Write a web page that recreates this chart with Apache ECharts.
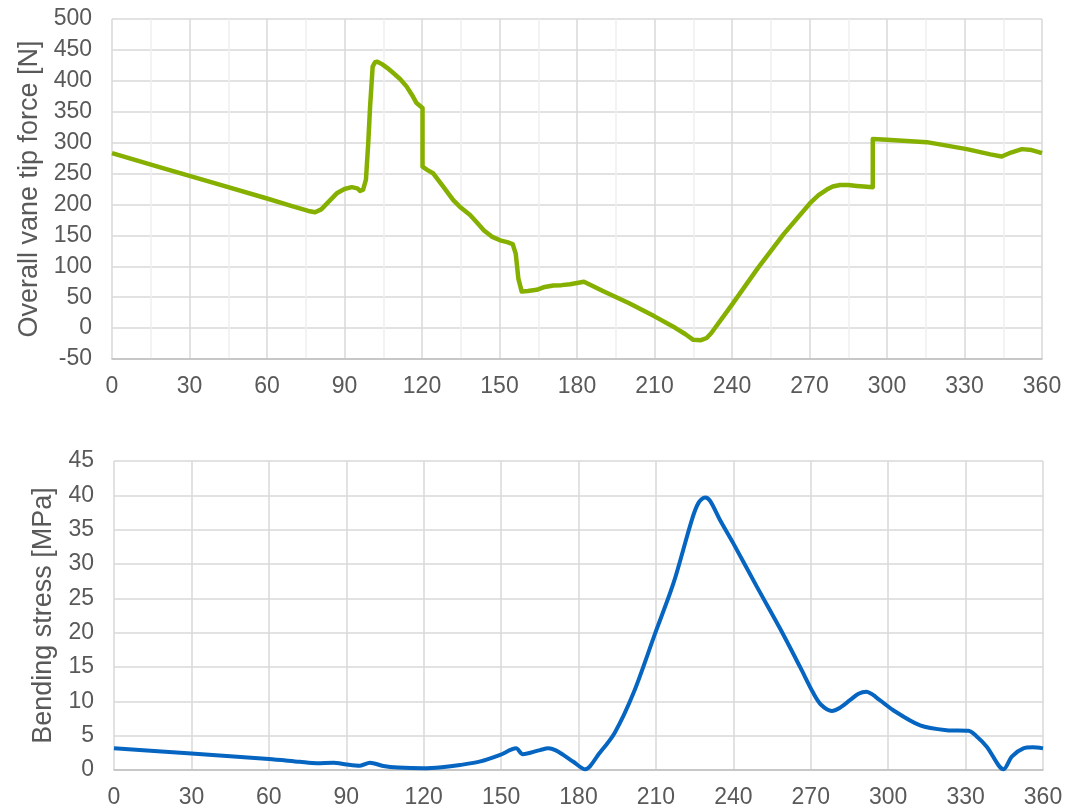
<!DOCTYPE html>
<html>
<head>
<meta charset="utf-8">
<script src="https://cdn.jsdelivr.net/npm/echarts@6/dist/echarts.min.js"></script>
<style>
html,body{margin:0;padding:0;background:#fff;}
#c{width:1068px;height:810px;}
</style>
</head>
<body>
<div id="c"></div>
<script>
// Top chart: overall vane tip force [N] vs angle [deg]
const forceAngle = [0, 20, 40, 60, 70, 76, 78.6, 81, 84, 87, 90, 92.8, 95, 96, 97.2, 98.3, 99.2, 99.9, 100.9, 101.8, 102.7, 104.5, 106.5, 108.9, 111.5, 114, 116, 117.9, 120.2, 120.2, 122, 124.4, 128, 132.1, 135, 138.6, 141, 144, 147, 150.2, 153, 155.1, 156.3, 157.3, 158.6, 161, 164.4, 167, 170.8, 174, 177.3, 180, 182.7, 190, 200, 210, 218, 222, 225, 228, 230.2, 232, 240, 250, 260, 270.2, 273.5, 276.7, 279, 281.8, 285, 288.3, 291, 294.5, 294.5, 299.9, 315.4, 330.9, 340, 344.4, 348, 352.2, 356, 360];
const forceValue = [283, 258.5, 234, 209.6, 197, 189.5, 187.5, 192, 205, 218, 225, 228, 226, 222, 224, 240, 300, 358, 423, 430, 431, 427, 421, 412.5, 403, 391, 378, 364, 356, 261, 256, 250, 230, 207, 195, 183, 172, 158, 148, 142, 139, 136, 120, 80, 59, 60, 62, 66, 69, 69.5, 71, 73, 75, 60, 40.5, 19, 0.5, -10, -19, -19.5, -16, -8, 38, 97, 152, 202, 215, 224, 229, 231.5, 231.5, 230, 229, 228, 305.7, 304.6, 300.8, 289.5, 281, 277.5, 284, 289.5, 288, 283];

// Bottom chart: bending stress [MPa] vs angle [deg]
const stressAngle = [0, 30, 60, 72, 78.6, 85, 90.2, 95.3, 99.2, 104.4, 110, 119.9, 127, 134.1, 142, 149.6, 155.8, 158.4, 165.1, 168.3, 171, 174.1, 178, 182.6, 188, 194, 201.3, 209.7, 216.8, 223.9, 226.5, 229.1, 231, 235, 240, 249.1, 258.1, 266, 271, 274, 278.2, 281, 285.3, 288.5, 291.5, 293.5, 295, 302, 312.4, 322.7, 331.1, 334, 338.2, 344.7, 348, 352.4, 356, 360];
const stressValue = [3.15, 2.4, 1.6, 1.2, 1.0, 1.07, 0.8, 0.63, 1.07, 0.58, 0.35, 0.24, 0.4, 0.73, 1.25, 2.2, 3.15, 2.3, 2.9, 3.15, 2.9, 2.2, 1.2, 0.1, 2.4, 5.4, 11.2, 19.9, 27.2, 36.4, 38.9, 39.7, 39.2, 36.3, 33, 26.7, 20.6, 14.9, 11.2, 9.5, 8.6, 9, 10.2, 11.1, 11.4, 11.1, 10.7, 8.7, 6.5, 5.8, 5.7, 5.0, 3.4, 0.1, 2.0, 3.15, 3.3, 3.15];

const xTicks = [0, 30, 60, 90, 120, 150, 180, 210, 240, 270, 300, 330, 360];
const forceName = 'Overall vane tip force [N]';
const stressName = 'Bending stress [MPa]';

const FONT = "'Liberation Sans', Arial, sans-serif";
const TXT = '#595959';
const GRID = '#d9d9d9';

function zip(a, b) { return a.map((v, i) => [v, b[i]]); }

function xAxisCfg(gridIndex, minor) {
  return {
    type: 'value', gridIndex: gridIndex, min: xTicks[0], max: xTicks[xTicks.length - 1], interval: 30,
    axisLine: { show: true, onZero: false, lineStyle: { color: '#bfbfbf', width: 1.5 } },
    axisTick: { show: false },
    axisLabel: { color: TXT, fontSize: 23, fontFamily: FONT, margin: 16 },
    splitLine: { show: true, lineStyle: { color: GRID, width: 1.5 } },
    minorTick: { show: false, splitNumber: 2 },
    minorSplitLine: { show: minor, lineStyle: { color: '#f0f0f0', width: 1.5 } }
  };
}

const chart = echarts.init(document.getElementById('c'), null, { renderer: 'canvas' });
chart.setOption({
  animation: false,
  backgroundColor: '#fff',
  grid: [
    { left: 112, top: 19, right: 26, height: 340 },
    { left: 114, top: 461, right: 25, height: 309 }
  ],
  xAxis: [xAxisCfg(0, true), xAxisCfg(1, false)],
  yAxis: [
    {
      type: 'value', gridIndex: 0, min: -50, max: 500, interval: 50,
      name: forceName, nameLocation: 'middle', nameGap: 64, nameRotate: 90,
      nameTextStyle: { color: TXT, fontSize: 27, fontFamily: FONT },
      axisLine: { show: false }, axisTick: { show: false },
      axisLabel: { color: TXT, fontSize: 23, fontFamily: FONT, margin: 20 },
      splitLine: { show: true, lineStyle: { color: GRID, width: 1.5 } }
    },
    {
      type: 'value', gridIndex: 1, min: 0, max: 45, interval: 5,
      name: stressName, nameLocation: 'middle', nameGap: 51, nameRotate: 90,
      nameTextStyle: { color: TXT, fontSize: 27, fontFamily: FONT },
      axisLine: { show: false }, axisTick: { show: false },
      axisLabel: { color: TXT, fontSize: 23, fontFamily: FONT, margin: 20 },
      splitLine: { show: true, lineStyle: { color: GRID, width: 1.5 } }
    }
  ],
  series: [
    {
      type: 'line', xAxisIndex: 0, yAxisIndex: 0, data: zip(forceAngle, forceValue),
      showSymbol: false, smooth: false, lineStyle: { color: '#86b000', width: 4.5, join: 'round' }
    },
    {
      type: 'line', xAxisIndex: 1, yAxisIndex: 1, data: zip(stressAngle, stressValue),
      showSymbol: false, smooth: 0.3, lineStyle: { color: '#0565c0', width: 4 }
    }
  ]
});
</script>
</body>
</html>
